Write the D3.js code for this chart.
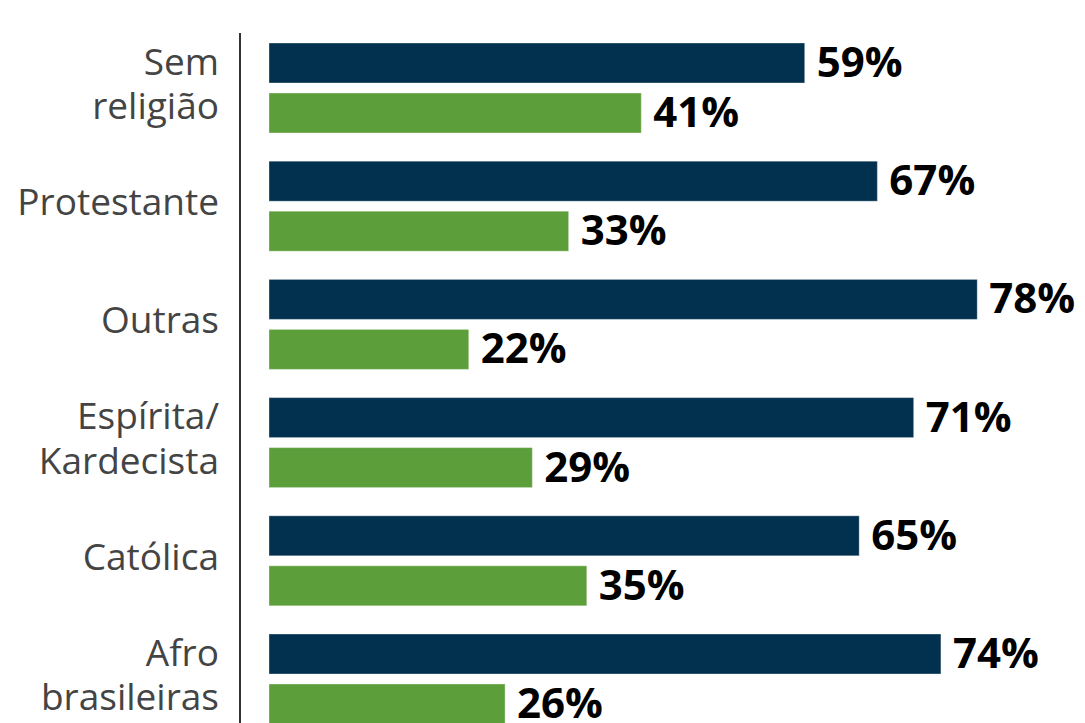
<!DOCTYPE html>
<html>
<head>
<meta charset="utf-8">
<script src="https://cdn.jsdelivr.net/npm/d3@7"></script>
<style>
  html, body { margin: 0; padding: 0; background: #ffffff; }
  svg { display: block; }
</style>
</head>
<body>
<div id="chart"></div>
<script>
// Religion groups (multi-line labels split on "\n")
const categories = ["Sem\nreligião", "Protestante", "Outras", "Espírita/\nKardecista", "Católica", "Afro\nbrasileiras"];
const seriesKeys = ["primeiro", "segundo"];
const valuesPrimeiro = [59, 67, 78, 71, 65, 74];
const valuesSegundo = [41, 33, 22, 29, 35, 26];

const width = 1085, height = 723;
const colors = { primeiro: "#02314f", segundo: "#5c9f3a" };

const svg = d3.select("#chart").append("svg")
  .attr("width", width).attr("height", height);

const x = d3.scaleLinear().domain([0, 100]).range([269, 269 + 908]);

const y0 = d3.scaleBand()
  .domain(categories)
  .range([43, 43 + 6 * 118.2 - 28.2])
  .paddingInner(0.2386)
  .paddingOuter(0);

const y1 = d3.scaleBand()
  .domain(seriesKeys)
  .range([0, y0.bandwidth()])
  .paddingInner(0.2);

const rows = categories.map((c, i) => ({
  cat: c,
  vals: [
    { key: "primeiro", v: valuesPrimeiro[i] },
    { key: "segundo", v: valuesSegundo[i] }
  ]
}));

// vertical baseline
svg.append("line")
  .attr("x1", 240).attr("x2", 240)
  .attr("y1", 33).attr("y2", height)
  .attr("stroke", "#333333").attr("stroke-width", 2);

const g = svg.selectAll("g.grp").data(rows).enter().append("g")
  .attr("class", "grp")
  .attr("transform", d => `translate(0,${y0(d.cat)})`);

g.selectAll("rect").data(d => d.vals).enter().append("rect")
  .attr("x", x(0))
  .attr("y", d => y1(d.key))
  .attr("width", d => x(d.v) - x(0))
  .attr("height", y1.bandwidth())
  .attr("fill", d => colors[d.key])
  .attr("stroke", "rgba(255,255,255,0.35)")
  .attr("stroke-width", 1);

g.selectAll("text.val").data(d => d.vals).enter().append("text")
  .attr("class", "val")
  .attr("x", d => x(d.v) + 12)
  .attr("y", d => y1(d.key) + y1.bandwidth() / 2 + 14)
  .attr("font-family", "'Open Sans', 'Noto Sans', sans-serif")
  .attr("font-weight", 700)
  .attr("font-size", 42)
  .attr("fill", "#000000")
  .text(d => d.v + "%");

// category labels, right-aligned to the left of the baseline
g.each(function(d) {
  const lines = d.cat.split("\n");
  const mid = y0.bandwidth() / 2;
  const lh = 45;
  const t = d3.select(this).append("text")
    .attr("text-anchor", "end")
    .attr("font-family", "'Open Sans', 'Noto Sans', sans-serif")
    .attr("font-size", 37)
    .attr("fill", "#444444");
  lines.forEach((ln, j) => {
    t.append("tspan")
      .attr("x", 219)
      .attr("y", mid + 9 + (j - (lines.length - 1) / 2) * lh)
      .text(ln);
  });
});
</script>
</body>
</html>
